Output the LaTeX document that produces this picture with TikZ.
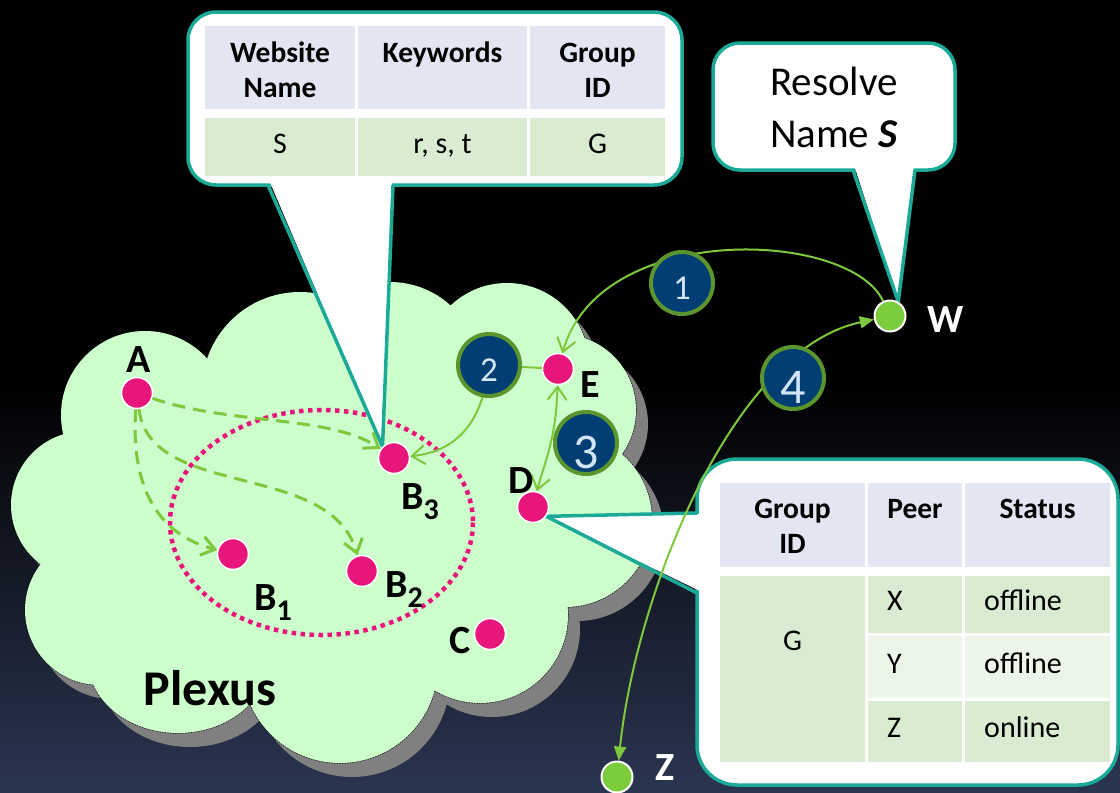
\documentclass[tikz,border=0pt]{standalone}
\usepackage{fontspec}
\setmainfont{Carlito}
\usetikzlibrary{arrows.meta,calc}

\definecolor{calloutteal}{RGB}{27,170,152}
\definecolor{hdrblue}{RGB}{226,230,243}
\definecolor{rowgreen}{RGB}{217,236,209}
\definecolor{rowpale}{RGB}{236,246,232}
\definecolor{linkgreen}{RGB}{125,200,60}
\definecolor{stepnavy}{RGB}{0,62,116}
\definecolor{ringgreen}{RGB}{90,150,45}
\definecolor{digitblue}{RGB}{210,230,246}
\definecolor{peerpink}{RGB}{232,22,122}
\definecolor{hostgreen}{RGB}{122,204,58}
\definecolor{cloudfill}{RGB}{204,255,204}
\definecolor{cloudshadow}{RGB}{128,128,128}
\definecolor{skybottom}{RGB}{42,53,80}

\pgfdeclarelayer{back}
\pgfdeclarelayer{links}
\pgfsetlayers{back,links,main}

% lowered index digit for the B peers
\newcommand\lowsub[1]{\raisebox{-10pt}{\fontsize{30}{30}\selectfont #1}}
% step digits: a zero-size box whose glyph sits a little below the disc centre
\newcommand\smallstep[1]{\fontsize{35}{35}\selectfont\smash{\raisebox{-16pt}{#1}}}
\newcommand\bigstep[1]{\fontsize{50}{50}\selectfont\smash{\raisebox{-25pt}{#1}}}

% bumps of the Plexus cloud: x/y/x radius/y radius
\newcommand\cloudbumps{145/415/84/84, 300/390/98/98, 390/372/90/90, 507/365/82/82,
  560/410/76/76, 565/520/87/87, 480/615/88/88, 340/665/98/98, 178/660/90/73,
  100/610/75/75, 85/505/74/74}
\newcommand\cloudcore{(85,505) -- (145,415) -- (300,390) -- (390,372) -- (507,365)
  -- (560,410) -- (565,520) -- (480,615) -- (340,665) -- (178,660) -- (100,610) -- cycle}

\tikzset{
  peer/.style={circle, fill=peerpink, draw=white, line width=1.5pt, minimum size=31pt, inner sep=0pt},
  host/.style={circle, fill=hostgreen, draw=white, line width=2pt, minimum size=31pt, inner sep=0pt},
  stepnum/.style={circle, fill=stepnavy, draw=ringgreen, line width=4pt, minimum size=62pt,
    inner sep=0pt, text=digitblue},
  lbl/.style={font=\bfseries\fontsize{40}{40}\selectfont, inner sep=0pt, anchor=base},
  whitelbl/.style={lbl, text=white},
  cellbox/.style={inner sep=0pt, draw=none},
  thead/.style={font=\bfseries\fontsize{29.5}{35}\selectfont, inner sep=0pt, anchor=base},
  tcell/.style={font=\fontsize{30}{36}\selectfont, inner sep=0pt, anchor=base},
  callout/.style={draw=calloutteal, line width=3.5pt, fill=white},
  calloutedge/.style={draw=calloutteal, line width=3.5pt, line join=round},
  barb/.tip={Straight Barb[length=13pt,width=19pt]},
  tri/.tip={Triangle[length=14pt,width=12pt]},
  flow/.style={draw=linkgreen, line width=2pt},
  dashflow/.style={draw=linkgreen, line width=3pt, dash pattern=on 13pt off 8pt, -barb},
}

\begin{document}
\begin{tikzpicture}[x=1pt,y=-1pt]
\useasboundingbox (0,0) rectangle (1120,793);

% ---------- peers and hosts ----------
\node[peer] (A)  at (137,393) {};
\node[peer] (B1) at (233,554) {};
\node[peer] (B2) at (362,571) {};
\node[peer] (B3) at (394,458) {};
\node[peer] (C)  at (490,634) {};
\node[peer] (D)  at (533,507) {};
\node[peer] (E)  at (558,369) {};
\node[host] (W)  at (890,316) {};
\node[host] (Z)  at (617,777) {};

% ---------- numbered steps ----------
\coordinate (p2) at (489,365);
\node[stepnum] (s1) at (682,283) {\smallstep{1}};
\node[stepnum] (s2) at (p2) {\smallstep{2}};
\node[stepnum] (s3) at (586,443) {\bigstep{3}};
\node[stepnum] (s4) at (793,378) {\bigstep{4}};

% ---------- labels ----------
\node[lbl] (lA) at (139,372) {A};
\node[lbl, anchor=base west] (lB1) at (254,610) {B\lowsub{1}};
\node[lbl, anchor=base west] (lB2) at (385,597) {B\lowsub{2}};
\node[lbl, anchor=base west] (lB3) at (401,509) {B\lowsub{3}};
\node[lbl] (lC) at (460,653) {C};
\node[lbl] (lD) at (521,493) {D};
\node[lbl] (lE) at (590,397) {E};
\node[whitelbl] (lW) at (946,332) {W};
\node[whitelbl] (lZ) at (665,780) {Z};
\node[lbl, font=\bfseries\fontsize{50}{50}\selectfont] (plexus) at (210,705) {Plexus};

% ---------- website table ----------
\node[cellbox, fill=hdrblue, minimum width=150pt, minimum height=83pt] (t1h1) at (280,67.5) {};
\node[cellbox, fill=hdrblue, minimum width=169pt, minimum height=83pt] (t1h2) at (442.5,67.5) {};
\node[cellbox, fill=hdrblue, minimum width=135pt, minimum height=83pt] (t1h3) at (597.5,67.5) {};
\node[cellbox, fill=rowgreen, minimum width=150pt, minimum height=58pt] (t1d1) at (280,147) {};
\node[cellbox, fill=rowgreen, minimum width=169pt, minimum height=58pt] (t1d2) at (442.5,147) {};
\node[cellbox, fill=rowgreen, minimum width=135pt, minimum height=58pt] (t1d3) at (597.5,147) {};
\node[thead] (t1h1a) at (280,62) {Website};
\node[thead] (t1h1b) at (280,97) {Name};
\node[thead] (t1h2a) at (442.5,62) {Keywords};
\node[thead] (t1h3a) at (597.5,62) {Group};
\node[thead] (t1h3b) at (597.5,97) {ID};
\node[tcell] (t1d1t) at (280,153) {S};
\node[tcell] (t1d2t) at (442.5,153) {r, s, t};
\node[tcell] (t1d3t) at (597.5,153) {G};

% ---------- resolve request ----------
\node[tcell, font=\fontsize{41}{41}\selectfont] (rq1) at (834,95) {Resolve};
\node[tcell, font=\fontsize{41}{41}\selectfont] (rq2) at (834,147) {Name \textbf{\textit{S}}};

% ---------- group table ----------
\node[cellbox, fill=hdrblue, minimum width=145pt, minimum height=84pt] (t2h1) at (792.5,525) {};
\node[cellbox, fill=hdrblue, minimum width=94pt, minimum height=84pt] (t2h2) at (915,525) {};
\node[cellbox, fill=hdrblue, minimum width=145pt, minimum height=84pt] (t2h3) at (1037.5,525) {};
\node[cellbox, fill=rowgreen, minimum width=145pt, minimum height=186pt] (t2g) at (792.5,669) {};
\node[cellbox, fill=rowgreen, minimum width=94pt, minimum height=57pt] (t2p1) at (915,604.5) {};
\node[cellbox, fill=rowgreen, minimum width=145pt, minimum height=57pt] (t2s1) at (1037.5,604.5) {};
\node[cellbox, fill=rowpale, minimum width=94pt, minimum height=62pt] (t2p2) at (915,667) {};
\node[cellbox, fill=rowpale, minimum width=145pt, minimum height=62pt] (t2s2) at (1037.5,667) {};
\node[cellbox, fill=rowgreen, minimum width=94pt, minimum height=61pt] (t2p3) at (915,731.5) {};
\node[cellbox, fill=rowgreen, minimum width=145pt, minimum height=61pt] (t2s3) at (1037.5,731.5) {};
\node[thead] (t2h1a) at (792.5,518) {Group};
\node[thead] (t2h1b) at (792.5,553) {ID};
\node[thead] (t2h2a) at (915,518) {Peer};
\node[thead] (t2h3a) at (1037.5,518) {Status};
\node[tcell] (t2gt) at (792.5,650) {G};
\node[tcell, anchor=base west] (t2p1t) at (887,610) {X};
\node[tcell, anchor=base west] (t2s1t) at (984,610) {offline};
\node[tcell, anchor=base west] (t2p2t) at (887,673) {Y};
\node[tcell, anchor=base west] (t2s2t) at (984,673) {offline};
\node[tcell, anchor=base west] (t2p3t) at (887,737) {Z};
\node[tcell, anchor=base west] (t2s3t) at (984,737) {online};

% ---------- message flows ----------
\begin{pgfonlayer}{links}
  \draw[dashflow] (A) .. controls (230,425) and (330,415) .. (B3);
  \draw[dashflow] (A) .. controls (150,500) and (330,460) .. (B2);
  \draw[dashflow] (A) .. controls (130,490) and (160,535) .. (B1);
  \draw[flow, -barb] (W) .. controls (850,230) and (600,220) .. (E);
  \draw[flow, -barb] (E) -- (p2) .. controls (482,430) and (450,452) .. (B3);
  \draw[flow, barb-barb] (E) .. controls (556,440) and (545,460) .. (D);
  \draw[flow, tri-tri] (Z) .. controls (635,600) and (730,350) .. (W);
\end{pgfonlayer}

% ---------- backdrop, cloud and callouts ----------
\begin{pgfonlayer}{back}
  \fill[black] (0,0) rectangle (1120,793);
  \shade[top color=black, bottom color=skybottom] (0,380) rectangle (1120,793);

  % cloud shadow
  \begin{scope}[shift={(12,14)}]
    \foreach \cx/\cy/\rx/\ry in \cloudbumps
      \fill[cloudshadow] (\cx,\cy) ellipse [x radius=\rx, y radius=\ry];
    \fill[cloudshadow] \cloudcore;
  \end{scope}
  % dotted rim, then the body over its inner half
  \foreach \cx/\cy/\rx/\ry in \cloudbumps
    \draw[black, line width=1.3pt, dash pattern=on 1.3pt off 1.3pt]
      (\cx,\cy) ellipse [x radius=\rx, y radius=\ry];
  \foreach \cx/\cy/\rx/\ry in \cloudbumps
    \fill[cloudfill] (\cx,\cy) ellipse [x radius=\rx, y radius=\ry];
  \fill[cloudfill] \cloudcore;

  % group of B peers
  \draw[peerpink, line width=4.5pt, dash pattern=on 4.5pt off 4.5pt]
    (321.5,522.5) ellipse [x radius=151.5, y radius=112.5];

  % website record callout
  \draw[callout, rounded corners=28pt] (188,12) rectangle (682,185);
  \fill[white] (269,180) -- (B3.north west) -- (392,180) -- cycle;
  \draw[calloutedge] (268,185) -- (B3.north west) -- (393,185);

  % resolve request callout
  \draw[callout, rounded corners=27pt] (713,43) rectangle (955,170);
  \fill[white] (854,165) -- (W.60) -- (914,165) -- cycle;
  \draw[calloutedge] (853,170) -- (W.60) -- (915,170);

  % group status callout
  \draw[callout, rounded corners=40pt] (697,459) rectangle (1118,785);
  \fill[white] (702,514) -- (D.-35) -- (702,592) -- cycle;
  \draw[calloutedge] (697,513) -- (D.-35) -- (697,593);
\end{pgfonlayer}
\end{tikzpicture}
\end{document}
